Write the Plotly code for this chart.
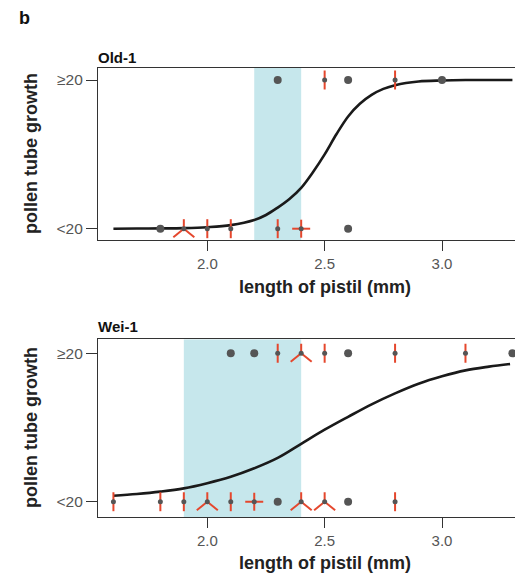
import plotly.graph_objects as go

# ---------------- data ----------------
tick_vals = [2.0, 2.5, 3.0]
tick_text = ["2.0", "2.5", "3.0"]
y_tick_vals = [0, 1]
y_tick_text = ["<20", "≥20"]

# Old-1
old_x_low = [1.8, 1.9, 2.0, 2.1, 2.3, 2.4, 2.6]
old_n_low = [1, 3, 2, 2, 2, 4, 1]
old_x_high = [2.3, 2.5, 2.6, 2.8, 3.0]
old_n_high = [1, 2, 1, 2, 1]
old_band = [2.2, 2.4]
old_curve_x = [1.6, 1.7, 1.8, 1.9, 2.0, 2.1, 2.2, 2.25, 2.3, 2.35, 2.4, 2.45, 2.5,
               2.55, 2.6, 2.65, 2.7, 2.75, 2.8, 2.9, 3.0, 3.1, 3.2, 3.3]
old_curve_y = [0.0, 0.001, 0.002, 0.004, 0.01, 0.024, 0.058, 0.092, 0.142, 0.2, 0.275,
               0.38, 0.5, 0.635, 0.755, 0.84, 0.9, 0.94, 0.965, 0.99, 0.997, 1.0, 1.0, 1.0]

# Wei-1
wei_x_low = [1.6, 1.8, 1.9, 2.0, 2.1, 2.2, 2.3, 2.4, 2.5, 2.6, 2.8]
wei_n_low = [2, 2, 2, 3, 2, 4, 1, 3, 3, 1, 2]
wei_x_high = [2.1, 2.2, 2.3, 2.4, 2.5, 2.6, 2.8, 3.1, 3.3]
wei_n_high = [1, 1, 2, 3, 2, 1, 2, 2, 1]
wei_band = [1.9, 2.4]
wei_curve_x = [1.6, 1.7, 1.8, 1.9, 2.0, 2.1, 2.2, 2.3, 2.4, 2.5, 2.6, 2.7, 2.8,
               2.9, 3.0, 3.1, 3.2, 3.29]
wei_curve_y = [0.04, 0.052, 0.068, 0.09, 0.125, 0.168, 0.225, 0.295, 0.39, 0.485,
               0.572, 0.656, 0.73, 0.795, 0.845, 0.885, 0.91, 0.928]

# ---------------- geometry / style ----------------
OFF = 0  # page body margin is removed by post_script
W, H = 515 - OFF, 578 - OFF
ML, MR = 98 - OFF, 0
PLOT_TOP, PLOT_BOT = 68 - OFF, 517 - OFF
MT, MB = PLOT_TOP, H - PLOT_BOT
PW, PH = W - ML - MR, PLOT_BOT - PLOT_TOP
XR = [1.5343, 3.311]
TOP_DOM = [(PLOT_BOT - (240 - OFF)) / PH, 1.0]
BOT_DOM = [0.0, (PLOT_BOT - (339.3 - OFF)) / PH]
YR_TOP = [-0.076, 1.0807]
YR_BOT = [-0.103, 1.0943]

GREY = "#555555"
RED = "#e5472d"
BAND = "#c6e7ec"
FONT = "Liberation Sans, Arial, sans-serif"

# petal offsets in pixels (dx right, dy up) by count
PETALS = {
    2: [(0, 9.5), (0, -9.5)],
    3: [(0, 9.5), (10.5, -8.5), (-10.5, -8.5)],
    4: [(0, 9.0), (9.0, 0), (0, -9.0), (-9.0, 0)],
}

pxx = PW / (XR[1] - XR[0])


def pxy(dom, yr):
    return (dom[1] - dom[0]) * PH / (yr[1] - yr[0])


fig = go.Figure()


def add_panel(xa, ya, dom, yr, x_low, n_low, x_high, n_high, band, cx, cy):
    fig.add_shape(type="rect", xref=xa, yref=ya, x0=band[0], x1=band[1],
                  y0=yr[0], y1=yr[1], fillcolor=BAND, line_width=0, layer="below")
    fig.add_trace(go.Scatter(x=cx, y=cy, mode="lines", xaxis=xa, yaxis=ya,
                             line=dict(color="#1a1a1a", width=2.6, shape="spline", smoothing=1.0),
                             hoverinfo="skip", showlegend=False))
    py = pxy(dom, yr)
    sx, sy, mx, my, px_, py_ = [], [], [], [], [], []
    for xs, ns, yv in [(x_low, n_low, 0), (x_high, n_high, 1)]:
        for x, n in zip(xs, ns):
            if n == 1:
                px_.append(x)
                py_.append(yv)
            else:
                mx.append(x)
                my.append(yv)
                for dx, dy in PETALS[n]:
                    sx += [x, x + dx / pxx, None]
                    sy += [yv, yv + dy / py, None]
    fig.add_trace(go.Scatter(x=sx, y=sy, mode="lines", xaxis=xa, yaxis=ya,
                             line=dict(color=RED, width=2), hoverinfo="skip", showlegend=False))
    fig.add_trace(go.Scatter(x=mx, y=my, mode="markers", xaxis=xa, yaxis=ya,
                             marker=dict(color=GREY, size=5), showlegend=False))
    fig.add_trace(go.Scatter(x=px_, y=py_, mode="markers", xaxis=xa, yaxis=ya,
                             marker=dict(color=GREY, size=8), showlegend=False))


add_panel("x", "y", TOP_DOM, YR_TOP, old_x_low, old_n_low, old_x_high, old_n_high,
          old_band, old_curve_x, old_curve_y)
add_panel("x2", "y2", BOT_DOM, YR_BOT, wei_x_low, wei_n_low, wei_x_high, wei_n_high,
          wei_band, wei_curve_x, wei_curve_y)

xax = dict(range=XR, tickvals=tick_vals, ticktext=tick_text, ticks="outside", ticklen=10,
           tickwidth=1.3, tickcolor="#333", showline=True, linecolor="#333", linewidth=1.3,
           mirror=True, showgrid=False, zeroline=False, domain=[0, 1],
           tickfont=dict(size=15, color=GREY, family=FONT))
yax = dict(tickvals=y_tick_vals, ticktext=y_tick_text, ticks="outside", ticklen=11,
           tickwidth=1.3, tickcolor="#333", showline=True, linecolor="#333", linewidth=1.3,
           showgrid=False, zeroline=False, tickfont=dict(size=15.5, color=GREY, family=FONT))

fig.update_layout(
    width=W, height=H, plot_bgcolor="white", paper_bgcolor="white",
    margin=dict(l=ML, r=MR, t=MT, b=MB, autoexpand=False),
    xaxis=dict(xax, anchor="y"),
    yaxis=dict(yax, domain=TOP_DOM, range=YR_TOP, anchor="x"),
    xaxis2=dict(xax, anchor="y2"),
    yaxis2=dict(yax, domain=BOT_DOM, range=YR_BOT, anchor="x2"),
    font=dict(family=FONT),
)


def px2p(xp, yp):
    # reference-image pixel -> paper coords
    return (xp - OFF - ML) / PW, (PLOT_BOT - (yp - OFF)) / PH


ann = []
bx, by = px2p(17, 18)
ann.append(dict(text="<b>b</b>", x=bx, y=by, xanchor="left", yanchor="middle", font=dict(size=18, color="#111")))
for title, ypix in [("Old-1", 58), ("Wei-1", 326)]:
    tx, ty = px2p(96, ypix)
    ann.append(dict(text=f"<b>{title}</b>", x=tx, y=ty, xanchor="left", yanchor="middle",
                    font=dict(size=15, color="#111")))
for xa, ypix in [("x", 287), ("x2", 563)]:
    _, ty = px2p(0, ypix)
    ann.append(dict(text="<b>length of pistil (mm)</b>", xref=xa, x=2.5, y=ty, xanchor="center",
                    yanchor="middle", font=dict(size=18, color="#222")))
for ypix in [154, 428]:
    tx, ty = px2p(31, ypix)
    ann.append(dict(text="<b>pollen tube growth</b>", x=tx, y=ty, textangle=-90, xanchor="center",
                    yanchor="middle", font=dict(size=18, color="#222")))
for a in ann:
    a.setdefault("xref", "paper")
    a["yref"] = "paper"
    a["showarrow"] = False
    fig.add_annotation(**a)

fig.write_html("out.html", config={"displayModeBar": False},
               post_script="document.body.style.margin='0';document.body.style.overflow='hidden';")
